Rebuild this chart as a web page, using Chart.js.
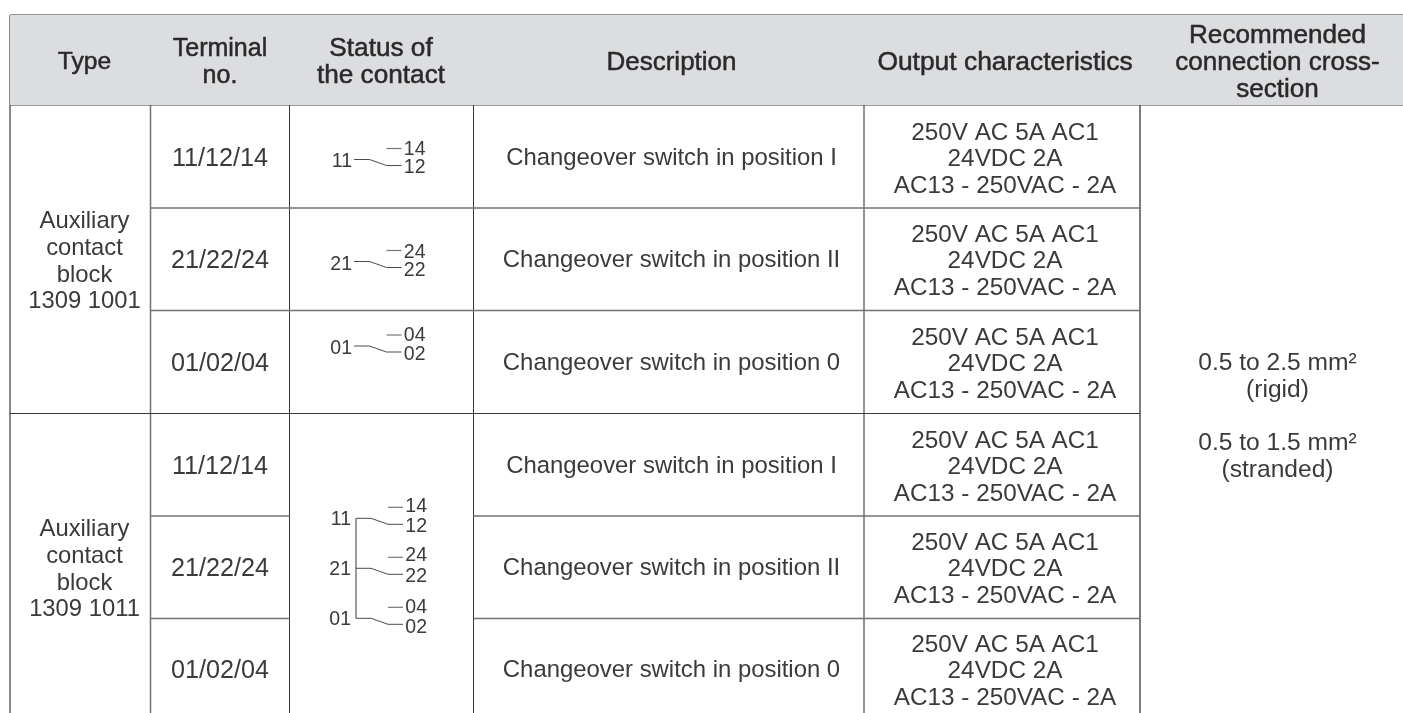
<!DOCTYPE html>
<html>
<head>
<meta charset="utf-8">
<title>Auxiliary contact blocks</title>
<script src="https://cdn.jsdelivr.net/npm/chart.js@4"></script>
<style>
    html, body { margin: 0; padding: 0; background: #fff; }
    canvas { display: block; }
</style>
</head>
<body>
<canvas id="myChart" width="1403" height="713"></canvas>
<script>
// table content
const headers = [
    ['Type'],
    ['Terminal', 'no.'],
    ['Status of', 'the contact'],
    ['Description'],
    ['Output characteristics'],
    ['Recommended', 'connection cross-', 'section']
];
const blockNames = [
    ['Auxiliary', 'contact', 'block', '1309 1001'],
    ['Auxiliary', 'contact', 'block', '1309 1011']
];
const terminals = ['11/12/14', '21/22/24', '01/02/04', '11/12/14', '21/22/24', '01/02/04'];
const descriptions = [
    'Changeover switch in position I',
    'Changeover switch in position II',
    'Changeover switch in position 0',
    'Changeover switch in position I',
    'Changeover switch in position II',
    'Changeover switch in position 0'
];
const outputLines = ['250V AC 5A AC1', '24VDC 2A', 'AC13 - 250VAC - 2A'];
const crossSections = [
    ['0.5 to 2.5 mm²', '(rigid)'],
    ['0.5 to 1.5 mm²', '(stranded)']
];
const contactLabels = [
    ['11', '14', '12'],
    ['21', '24', '22'],
    ['01', '04', '02']
];

// layout, in page pixels
const colEdges = [10, 150.5, 289.5, 473.5, 864, 1140];
const colCenters = [84.5, 220, 381, 671.5, 1005, 1277.5];
const headerSizes = [24.6, 25, 26.2, 26, 26.4, 26.1];
const rowEdges = [15, 105, 208, 310.5, 413.5, 516, 618.5];
const rowCenters = [157, 259, 362, 465, 567, 669];
const PAGE_W = 1403, PAGE_H = 713;
const INK = '#3a3a3c';
const LINE_DARK = '#38383a', LINE_GREY = '#727274';
const BODY_FONT = '"Liberation Sans", Arial, sans-serif';

function rule(x0, y0, x1, y1, color, width) {
    return {
        data: [{ x: x0, y: y0 }, { x: x1, y: y1 }],
        borderColor: color,
        borderWidth: width,
        pointRadius: 0,
        fill: false
    };
}

function gridDatasets() {
    const [c0, c1, c2, c3, c4, c5] = colEdges;
    const [top, head, r1, r2, r3, r4, r5] = rowEdges;
    const sets = [];
    // header band
    sets.push({
        data: [{ x: c0, y: top }, { x: PAGE_W, y: top }],
        borderWidth: 0,
        pointRadius: 0,
        backgroundColor: '#dcddde',
        fill: { value: head }
    });
    sets.push(rule(c0, top, PAGE_W, top, LINE_GREY, 1.6));
    sets.push(rule(c0, head, PAGE_W, head, LINE_DARK, 1.2));
    sets.push(rule(c1, r1, c5, r1, LINE_GREY, 1.5));
    sets.push(rule(c1, r2, c5, r2, LINE_GREY, 1.5));
    sets.push(rule(c0, r3, c5, r3, LINE_DARK, 1.2));
    // the status cell spans the last three rows
    [r4, r5].forEach(function (y) {
        sets.push(rule(c1, y, c2, y, LINE_GREY, 1.5));
        sets.push(rule(c3, y, c5, y, LINE_GREY, 1.5));
    });
    sets.push(rule(c0, top, c0, PAGE_H, '#88888a', 2));
    sets.push(rule(c1, top, c1, PAGE_H, LINE_GREY, 1.5));
    sets.push(rule(c2, top, c2, PAGE_H, LINE_DARK, 1));
    sets.push(rule(c3, top, c3, PAGE_H, LINE_DARK, 1));
    sets.push(rule(c4, top, c4, PAGE_H, LINE_GREY, 1.5));
    sets.push(rule(c5, top, c5, PAGE_H, '#7c7c7e', 2));
    return sets;
}

// one changeover symbol: common wire, slanted arm, and the open stub above it
function contactSymbol(x0, y0, rightX) {
    return [
        {
            data: [{ x: x0, y: y0 }, { x: rightX - 32, y: y0 }, { x: rightX - 15, y: y0 + 6 }, { x: rightX, y: y0 + 6 }],
            borderColor: '#4a4a4c', borderWidth: 1, pointRadius: 0, fill: false
        },
        rule(rightX - 15, y0 - 11, rightX, y0 - 11, '#77777a', 1.2)
    ];
}

function symbolDatasets() {
    let sets = [];
    [159.5, 261.5, 346].forEach(function (y) {
        sets = sets.concat(contactSymbol(354, y, 401.5));
    });
    [518.3, 568.3, 618.3].forEach(function (y) {
        sets = sets.concat(contactSymbol(356, y, 403));
    });
    sets.push(rule(356, 518.3, 356, 618.3, '#58585a', 1.2));
    return sets;
}

const tableText = {
    id: 'tableText',
    afterDatasetsDraw(chart) {
        const ctx = chart.ctx;
        const px = chart.scales.x, py = chart.scales.y;

        function write(str, x, y, size, opts) {
            opts = opts || {};
            ctx.font = size + 'px ' + BODY_FONT;
            ctx.fillStyle = opts.color || INK;
            ctx.textAlign = opts.align || 'center';
            ctx.textBaseline = 'alphabetic';
            const sx = px.getPixelForValue(x);
            const sy = py.getPixelForValue(y) + size * 0.355;
            ctx.fillText(str, sx, sy);
            if (opts.heavy) {
                ctx.strokeStyle = opts.color || INK;
                ctx.lineWidth = opts.heavy;
                ctx.strokeText(str, sx, sy);
            }
        }

        function block(lines, x, y, size, pitch, opts) {
            const start = y - (lines.length - 1) * pitch / 2;
            lines.forEach(function (line, i) {
                write(line, x, start + i * pitch, size, opts);
            });
        }

        headers.forEach(function (lines, i) {
            block(lines, colCenters[i], 60.5, headerSizes[i], 27, { color: '#2a2a2c', heavy: 0.5 });
        });
        block(blockNames[0], colCenters[0], 260, 23.8, 26.7);
        block(blockNames[1], colCenters[0], 568, 23.8, 26.7);
        terminals.forEach(function (t, i) {
            write(t, colCenters[1], rowCenters[i], 25.2);
        });
        descriptions.forEach(function (d, i) {
            write(d, colCenters[3], rowCenters[i], 23.9);
        });
        rowCenters.forEach(function (y) {
            block(outputLines, colCenters[4], y + 0.8, 24.3, 26.4);
        });
        block(crossSections[0], colCenters[5], 375, 24.6, 26.5);
        block(crossSections[1], colCenters[5], 455, 24.6, 26.5);

        // contact symbols, first block
        [[160, 148, 166], [263.5, 250.7, 269.3], [347.3, 334, 352.7]].forEach(function (ys, i) {
            write(contactLabels[i][0], 352, ys[0], 19.5, { align: 'right' });
            write(contactLabels[i][1], 425.5, ys[1], 19.5, { align: 'right' });
            write(contactLabels[i][2], 425.5, ys[2], 19.5, { align: 'right' });
        });
        // contact symbols, second block
        [[518, 505, 525], [568, 554, 575], [618.3, 606, 625.7]].forEach(function (ys, i) {
            write(contactLabels[i][0], 351, ys[0], 19.5, { align: 'right' });
            write(contactLabels[i][1], 427, ys[1], 19.5, { align: 'right' });
            write(contactLabels[i][2], 427, ys[2], 19.5, { align: 'right' });
        });
    }
};

document.addEventListener('DOMContentLoaded', function () {
    const ctx = document.getElementById('myChart').getContext('2d');
    const config = {
        type: 'scatter',
        data: { datasets: gridDatasets().concat(symbolDatasets()).map(function (d) {
            d.showLine = true;
            d.tension = 0;
            return d;
        }) },
        options: {
            responsive: false,
            animation: false,
            layout: { padding: 0 },
            plugins: {
                legend: { display: false },
                tooltip: { enabled: false },
                title: { display: false }
            },
            scales: {
                x: { type: 'linear', min: 0, max: PAGE_W, display: false },
                y: { type: 'linear', min: 0, max: PAGE_H, reverse: true, display: false }
            }
        },
        plugins: [tableText]
    };
    new Chart(ctx, config);
});
</script>
</body>
</html>
